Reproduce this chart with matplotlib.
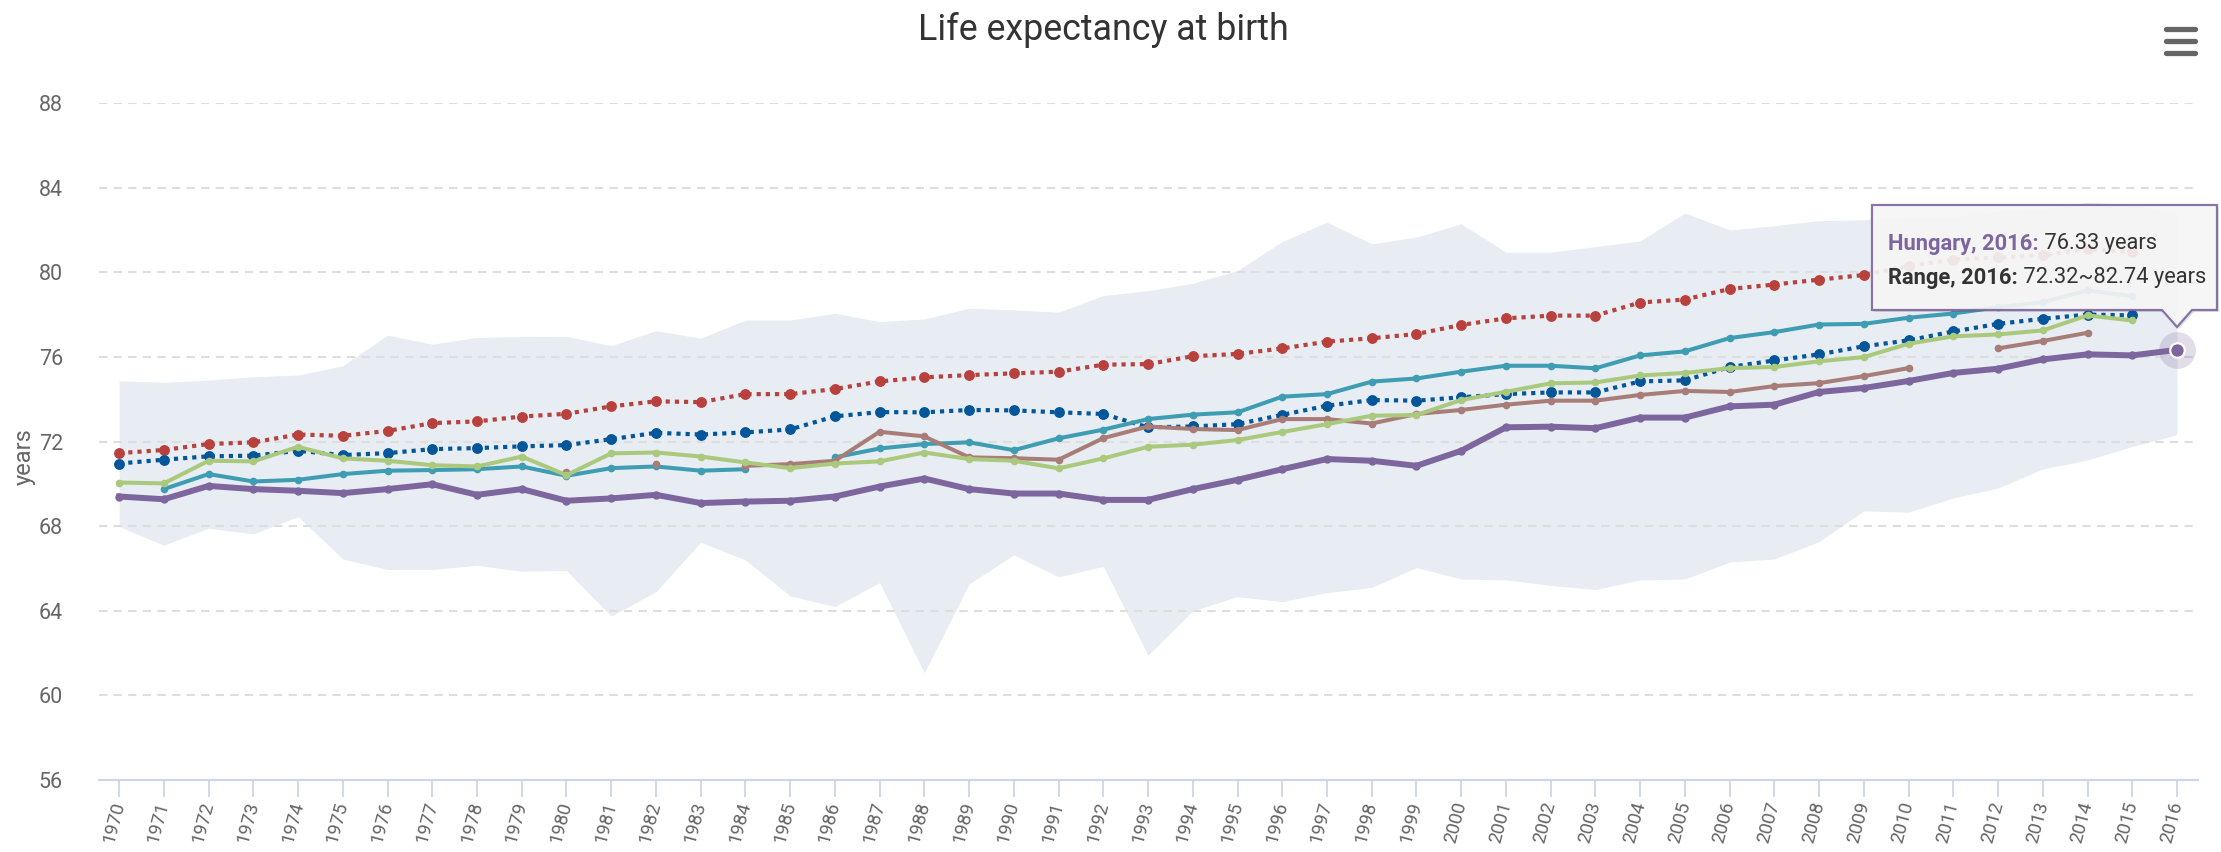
import numpy as np
import matplotlib
matplotlib.use("Agg")
import matplotlib.pyplot as plt
from matplotlib.patches import Polygon
from matplotlib.lines import Line2D

nan = np.nan

# ── Data ────────────────────────────────────────────────────────────────────
years = list(range(1970, 2017))

series_red = [
    71.45, 71.60, 71.88, 71.96, 72.33, 72.27, 72.50, 72.87, 72.95, 73.18,
    73.31, 73.66, 73.90, 73.86, 74.24, 74.24, 74.48, 74.84, 75.03, 75.14,
    75.22, 75.30, 75.63, 75.66, 76.03, 76.14, 76.40, 76.72, 76.88, 77.08,
    77.51, 77.82, 77.95, 77.95, 78.57, 78.71, 79.21, 79.42, 79.65, 79.87,
    80.30, 80.60, 80.70, 80.80, 81.10, 80.95, nan,
]
series_blue = [
    70.96, 71.14, 71.30, 71.33, 71.56, 71.36, 71.45, 71.64, 71.69, 71.77,
    71.83, 72.11, 72.41, 72.33, 72.43, 72.57, 73.19, 73.39, 73.38, 73.49,
    73.47, 73.38, 73.30, 72.67, 72.71, 72.82, 73.26, 73.69, 73.96, 73.93,
    74.09, 74.24, 74.32, 74.32, 74.84, 74.89, 75.52, 75.83, 76.12, 76.50,
    76.78, 77.20, 77.56, 77.80, 78.00, 77.96, nan,
]
series_teal = [
    nan, 69.75, 70.46, 70.11, 70.19, 70.46, 70.62, 70.65, 70.69, 70.82,
    70.38, 70.74, 70.82, 70.62, 70.69, nan, 71.25, 71.67, 71.88, 71.96,
    71.59, 72.15, 72.56, 73.06, 73.27, 73.38, 74.12, 74.24, 74.83, 74.98,
    75.30, 75.58, 75.58, 75.46, 76.07, 76.26, 76.89, 77.17, 77.53, 77.56,
    77.85, 78.05, 78.35, 78.58, 79.14, 78.87, nan,
]
series_green = [
    70.06, 70.02, 71.09, 71.06, 71.75, 71.20, 71.09, 70.88, 70.82, 71.29,
    70.41, 71.44, 71.48, 71.29, 71.01, 70.74, 70.96, 71.06, 71.48, 71.17,
    71.09, 70.73, 71.20, 71.75, 71.85, 72.07, 72.45, 72.82, 73.22, 73.25,
    73.96, 74.35, 74.75, 74.79, 75.12, 75.24, 75.47, 75.52, 75.79, 75.99,
    76.62, 76.97, 77.06, 77.25, 77.96, 77.72, nan,
]
series_brown = [
    nan, nan, nan, nan, nan, nan, nan, nan, nan, nan,
    70.58, nan, 70.93, nan, 70.85, 70.93, 71.09, 72.46, 72.24, 71.25,
    71.21, 71.14, 72.16, 72.71, 72.59, 72.54, 73.06, 73.06, 72.85, 73.30,
    73.49, 73.74, 73.93, 73.93, 74.20, 74.39, 74.34, 74.62, 74.76, 75.09,
    75.47, nan, 76.40, 76.75, 77.14, nan, nan,
]
hungary = [
    69.40, 69.27, 69.90, 69.75, 69.67, 69.56, 69.75, 69.98, 69.48, 69.75,
    69.20, 69.31, 69.48, 69.09, 69.16, 69.20, 69.40, 69.87, 70.25, 69.75,
    69.54, 69.54, 69.24, 69.24, 69.75, 70.19, 70.69, 71.17, 71.09, 70.85,
    71.56, 72.67, 72.70, 72.63, 73.13, 73.13, 73.66, 73.74, 74.34, 74.53,
    74.86, 75.24, 75.44, 75.88, 76.12, 76.07, 76.33,
]
range_high = [
    74.87, 74.80, 74.90, 75.06, 75.14, 75.58, 77.03, 76.60, 76.92, 76.96,
    76.97, 76.53, 77.24, 76.88, 77.74, 77.74, 78.06, 77.67, 77.79, 78.30,
    78.22, 78.11, 78.90, 79.13, 79.48, 80.08, 81.45, 82.37, 81.34, 81.66,
    82.29, 80.95, 80.95, 81.21, 81.48, 82.80, 82.00, 82.20, 82.44, 82.48,
    82.60, 82.60, 82.90, 83.00, 83.30, 83.20, 82.74,
]
range_low = [
    67.98, 67.10, 67.90, 67.63, 68.45, 66.45, 65.95, 65.95, 66.15, 65.87,
    65.90, 63.75, 64.90, 67.24, 66.40, 64.70, 64.20, 65.33, 61.07, 65.27,
    66.64, 65.60, 66.10, 61.90, 64.00, 64.67, 64.43, 64.86, 65.10, 66.04,
    65.50, 65.46, 65.20, 65.00, 65.46, 65.50, 66.30, 66.45, 67.27, 68.72,
    68.66, 69.33, 69.80, 70.70, 71.13, 71.76, 72.32,
]
y_ticks = [56, 60, 64, 68, 72, 76, 80, 84, 88]

# ── Style ───────────────────────────────────────────────────────────────────
W, H = 2221, 852
RED = "#b8413d"
BLUE = "#04569a"
TEAL = "#3e9db3"
GREEN = "#abc97d"
BROWN = "#a97d77"
PURPLE = "#7d659e"
BAND = "#e7edf3"
GRID = "#dedede"
AXIS = "#ccd6eb"
LABEL = "#666666"

plt.rcParams["font.family"] = ["Roboto", "DejaVu Sans"]

fig = plt.figure(figsize=(W / 100, H / 100), dpi=100)
ax = fig.add_axes([99 / W, 1 - 780 / H, (2198 - 99) / W, (780 - 103) / H])
ax.set_xlim(1969.55, 2016.47)
ax.set_ylim(56, 88)

# range band
ax.fill_between(years, range_low, range_high, color=BAND, lw=0, zorder=1)

# grid
for v in y_ticks[1:]:
    ax.axhline(v, color=GRID, lw=1.5, ls=(0, (4, 3)), zorder=2)

x = np.array(years)
dot = (0, (1, 1.2))
ax.plot(x, series_red, color=RED, lw=3.0, ls=dot, marker="o", ms=6.8,
        zorder=4)
ax.plot(x, series_blue, color=BLUE, lw=3.0, ls=dot, marker="o", ms=6.8,
        zorder=5)
ax.plot(x, series_teal, color=TEAL, lw=2.9, marker="o", ms=4.5, zorder=6)
ax.plot(x, series_green, color=GREEN, lw=2.9, marker="o", ms=4.5, zorder=7)
ax.plot(x, series_brown, color=BROWN, lw=2.9, marker="o", ms=4.5, zorder=6)
ax.plot(x, hungary, color=PURPLE, lw=4.3, marker="o", ms=5, zorder=8)

# hover state on the last Hungary point
ax.scatter([years[-1]], [hungary[-1]], s=700, color=PURPLE, alpha=0.22,
           lw=0, zorder=9)
ax.scatter([years[-1]], [hungary[-1]], s=110, color=PURPLE,
           edgecolors="white", linewidths=1.6, zorder=10)

# axes
for side in ("left", "right", "top"):
    ax.spines[side].set_visible(False)
ax.spines["bottom"].set_color(AXIS)
ax.spines["bottom"].set_linewidth(1.5)
ax.set_xticks(years)
ax.set_xticklabels([str(y) for y in years], rotation=75, ha="right",
                   va="center", rotation_mode="anchor")
ax.tick_params(axis="x", length=12, width=1.3, color=AXIS, pad=4,
               labelsize=13.5, labelcolor=LABEL)
ax.set_yticks(y_ticks)
ax.tick_params(axis="y", length=0, pad=26, labelsize=15.5, labelcolor=LABEL)

fig.text(24 / W, 1 - 457 / H, "years", rotation=90, ha="center",
         va="center", fontsize=17, color=LABEL)
title = fig.text(0.497, 1 - 30 / H, "Life expectancy at birth", ha="center",
                 va="center", fontsize=26, color="#333333")

# hamburger menu icon
for yy in (29, 41, 53):
    fig.add_artist(Line2D([2166 / W, 2195 / W], [1 - yy / H, 1 - yy / H],
                          transform=fig.transFigure, lw=3.8, color="#666666",
                          solid_capstyle="round"))

# tooltip
bx0, bx1, by0, by1 = 1872, 2217, 205, 310
px0, px1, ptip = 2162, 2192, (2177, 327)
pts = [(bx0, by0), (bx1, by0), (bx1, by1), (px1, by1), ptip, (px0, by1),
       (bx0, by1)]
shadow = Polygon([((p[0] + 2) / W, 1 - (p[1] + 2) / H) for p in pts],
                 closed=True, transform=fig.transFigure, facecolor="#000000",
                 alpha=0.12, edgecolor="none", zorder=20)
box = Polygon([(p[0] / W, 1 - p[1] / H) for p in pts], closed=True,
              transform=fig.transFigure, facecolor="#f9f9f9", alpha=0.9,
              edgecolor=PURPLE, lw=1.6, zorder=21)
fig.add_artist(shadow)
fig.add_artist(box)

tip_size = 16
h1 = fig.text(1888 / W, 1 - 244 / H, "Hungary, 2016:", ha="left",
              va="center", fontsize=tip_size, fontweight="bold",
              color=PURPLE, zorder=22)
v1 = fig.text(0, 1 - 244 / H, " 76.33 years", ha="left", va="center",
              fontsize=tip_size, color="#333333", zorder=22)
h2 = fig.text(1888 / W, 1 - 278 / H, "Range, 2016:", ha="left",
              va="center", fontsize=tip_size, fontweight="bold",
              color="#333333", zorder=22)
v2 = fig.text(0, 1 - 278 / H, " 72.32~82.74 years", ha="left", va="center",
              fontsize=tip_size, color="#333333", zorder=22)

# squeeze wide texts to the widths seen in the reference
renderer = fig.canvas.get_renderer()
tw = title.get_window_extent(renderer).width
title.set_fontsize(26 * 371 / tw)
line_w = (h2.get_window_extent(renderer).width
          + v2.get_window_extent(renderer).width)
tip_size = tip_size * 318 / line_w
for t in (h1, v1, h2, v2):
    t.set_fontsize(tip_size)
v1.set_x(h1.get_window_extent(renderer).x1 / W)
v2.set_x(h2.get_window_extent(renderer).x1 / W)

fig.savefig("out.png", dpi=100, facecolor="white")
